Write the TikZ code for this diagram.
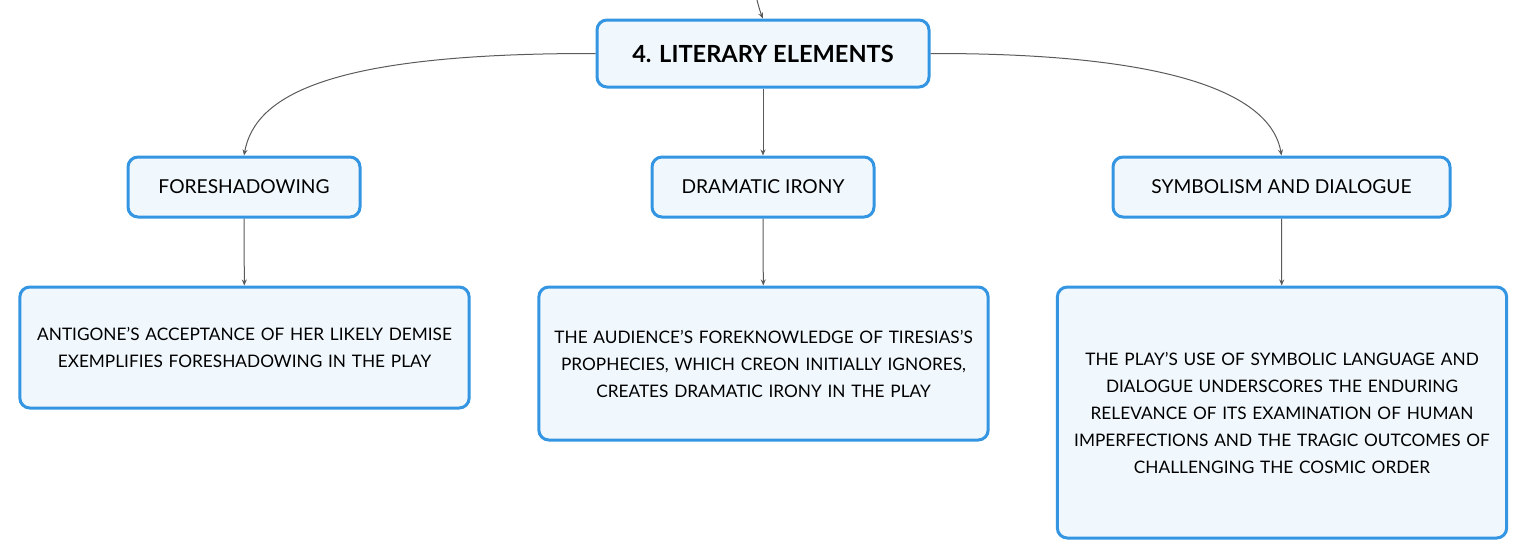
\documentclass[tikz,border=0pt]{standalone}
\usepackage{fontspec}
\setmainfont{Lato}
\usetikzlibrary{arrows.meta}
\definecolor{boxline}{RGB}{52,150,226}
\definecolor{boxfill}{RGB}{240,247,253}
\definecolor{linkgray}{RGB}{90,90,90}
\tikzset{
  topic/.style={draw=boxline, fill=boxfill, line width=1.5pt, rounded corners=5pt, align=center},
  sub/.style={topic, font=\fontsize{9.6}{11}\selectfont, minimum height=30pt},
  leaf/.style={topic, font=\fontsize{8.62}{13.5}\selectfont, text width=218pt, minimum width=224.5pt},
  link/.style={draw=linkgray, line width=0.5pt, -{Stealth[length=3pt,width=2.5pt]}}
}
\begin{document}
\begin{tikzpicture}[x=0.5pt,y=-0.5pt]
\useasboundingbox (0,0) rectangle (1527,558);
\node[topic, font=\fontsize{11.8}{14}\selectfont\bfseries, minimum width=166pt, minimum height=33.5pt] (root) at (763,53.5) {4. LITERARY ELEMENTS};

\node[sub, minimum width=116pt] (fore) at (244,187) {FORESHADOWING};
\node[sub, minimum width=111pt] (irony) at (763,187) {DRAMATIC IRONY};
\node[sub, minimum width=168.5pt] (symb) at (1281.5,187) {SYMBOLISM AND DIALOGUE};

\node[leaf, minimum height=60.5pt] (foretext) at (244.5,347.5) {ANTIGONE'S ACCEPTANCE OF HER LIKELY DEMISE\\EXEMPLIFIES FORESHADOWING IN THE PLAY};
\node[leaf, minimum height=76.5pt] (ironytext) at (763.5,363.5) {THE AUDIENCE'S FOREKNOWLEDGE OF TIRESIAS'S\\PROPHECIES, WHICH CREON INITIALLY IGNORES,\\CREATES DRAMATIC IRONY IN THE PLAY};
\node[leaf, minimum height=125.5pt] (symbtext) at (1282,412.5) {THE PLAY'S USE OF SYMBOLIC LANGUAGE AND\\DIALOGUE UNDERSCORES THE ENDURING\\RELEVANCE OF ITS EXAMINATION OF HUMAN\\IMPERFECTIONS AND THE TRAGIC OUTCOMES OF\\CHALLENGING THE COSMIC ORDER};

\coordinate (parent) at (757,0);
\path[link] (parent) .. controls (759,8) and (761,14) .. (root.north);
\path[link] (root.west) .. controls (330,53) and (255,95) .. (fore.north);
\path[link] (root.east) .. controls (1190,53) and (1272,100) .. (symb.north);
\path[link] (root) -- (irony);
\path[link] (fore) -- (foretext);
\path[link] (irony) -- (ironytext);
\path[link] (symb) -- (symbtext);
\end{tikzpicture}
\end{document}
